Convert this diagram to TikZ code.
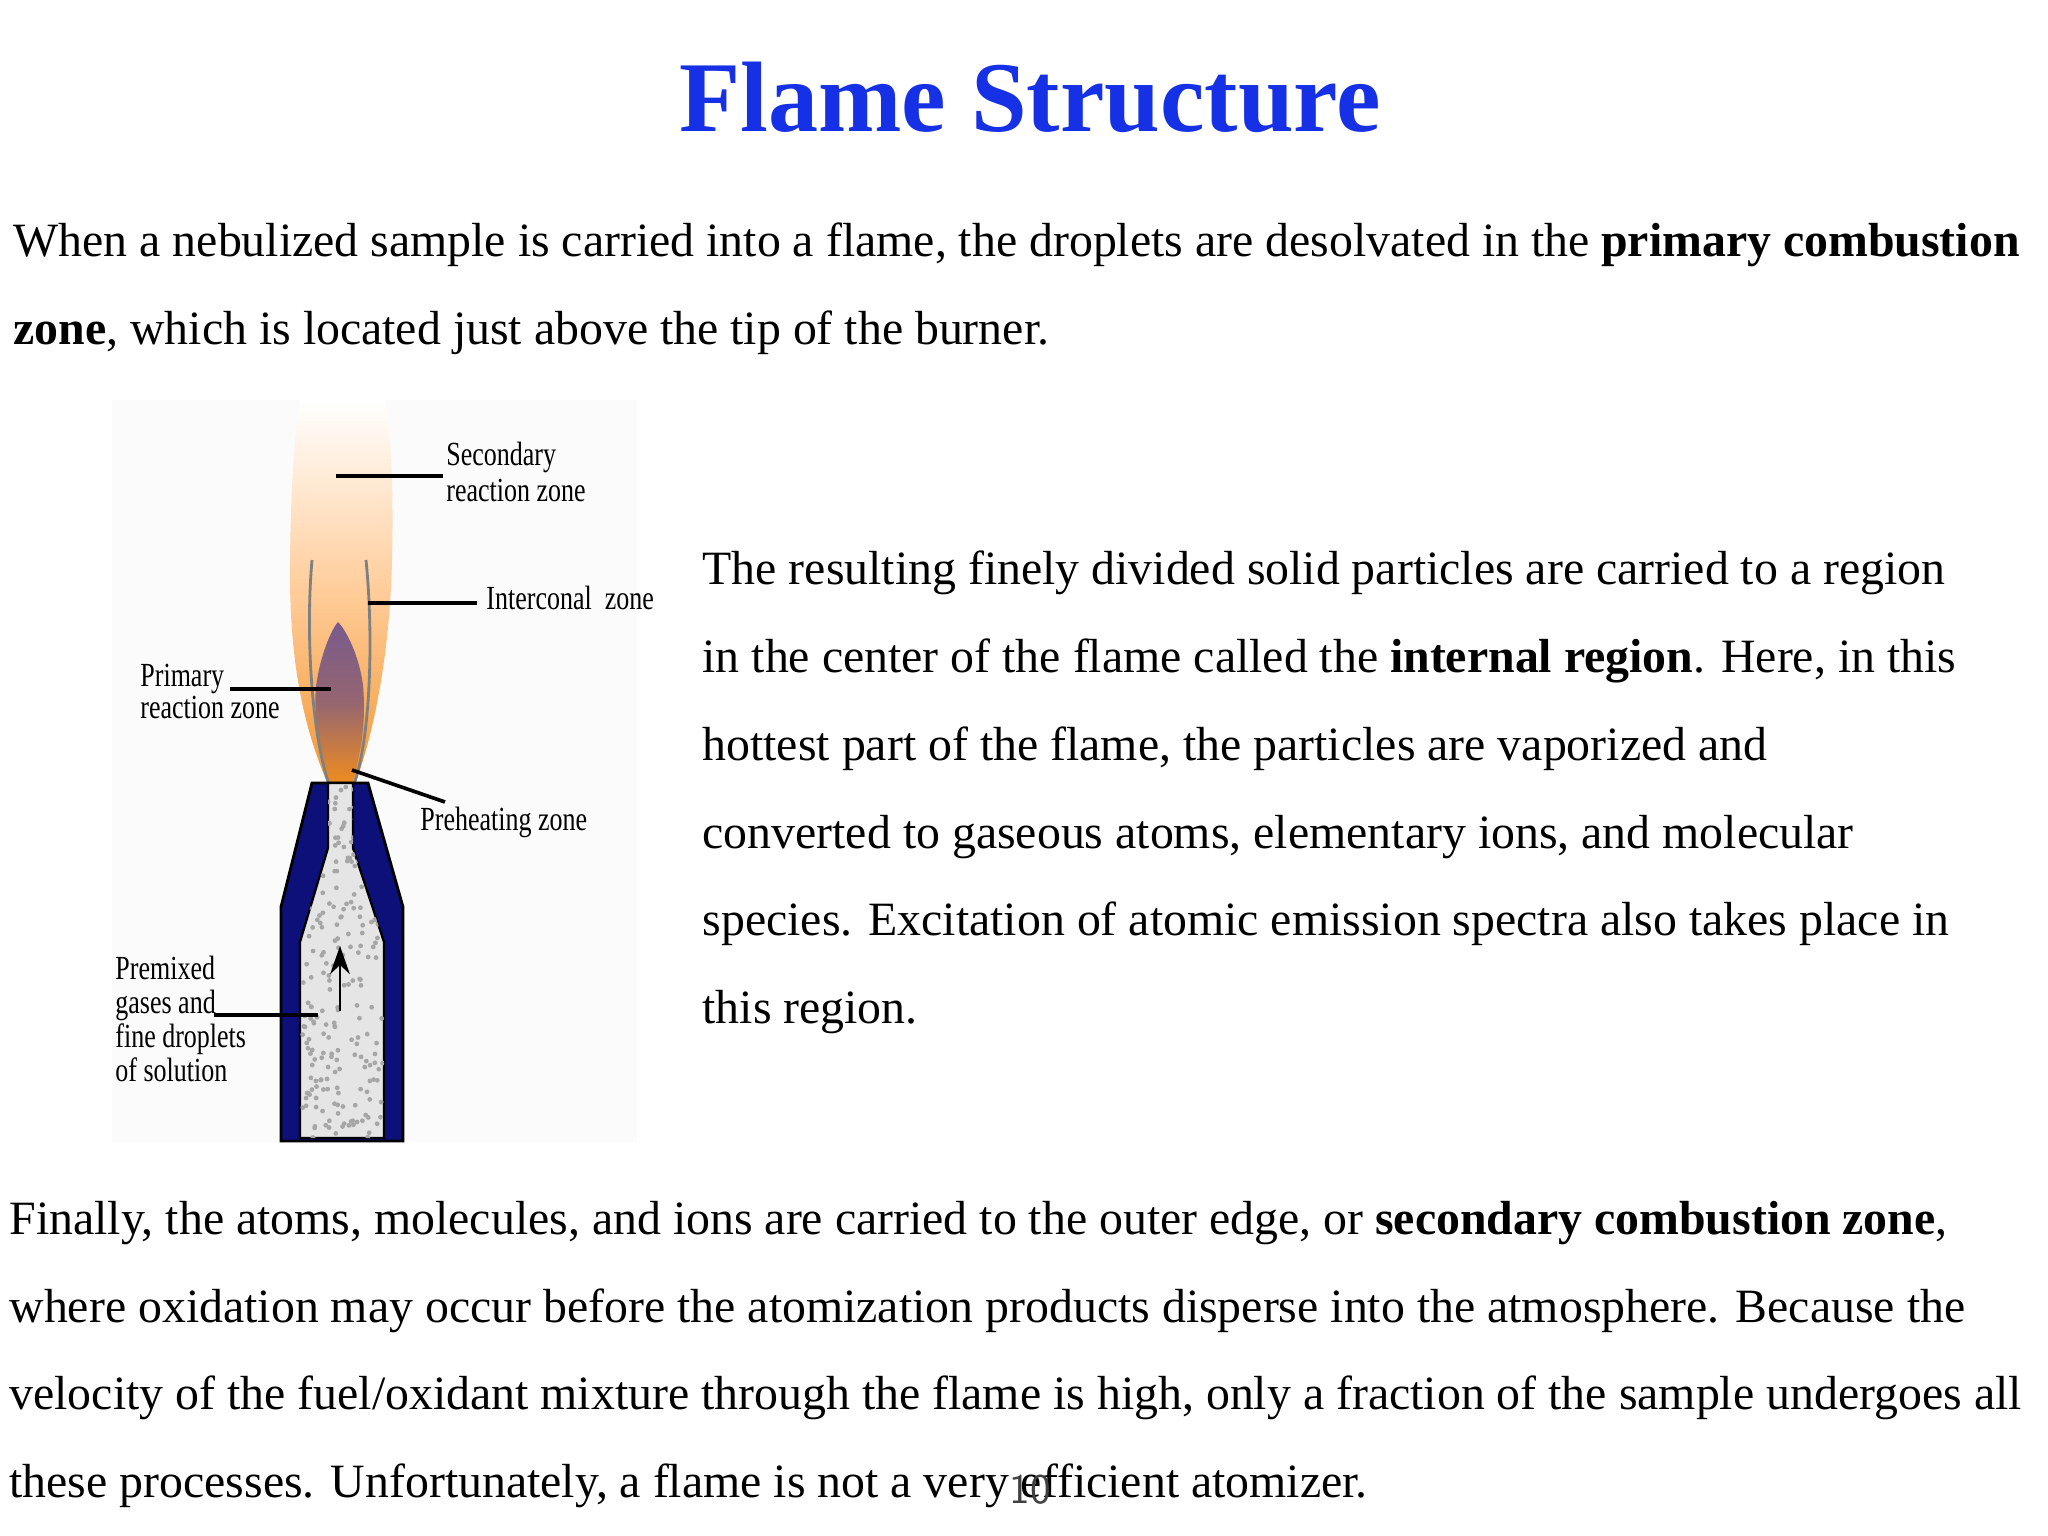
\documentclass[tikz,border=0pt]{standalone}
\usepackage{fontspec}
\setmainfont{Liberation Serif}
\usetikzlibrary{arrows.meta}
\definecolor{ttl}{RGB}{22,48,230}
\definecolor{navy}{RGB}{12,16,120}
\definecolor{flor}{RGB}{240,140,30}
\definecolor{purp}{RGB}{120,90,140}
\begin{document}
\begin{tikzpicture}[x=0.0125cm,y=-0.0125cm,
  body/.style={anchor=base west,inner sep=0pt,font=\fontsize{17}{18}\selectfont},
  lbl/.style={anchor=base west,inner sep=0pt,font=\fontsize{12}{13}\selectfont,xscale=0.77,transform shape},
  lead/.style={line width=1.3pt}]
\useasboundingbox (0,0) rectangle (2048,1536);
\fill[white] (0,0) rectangle (2048,1536);
\fill[black!1.5] (112,400) rectangle (637,1142);
% text
\node[anchor=base,inner sep=0pt,text=ttl,font=\bfseries\fontsize{35.6}{40}\selectfont] (title) at (1030,131) {Flame Structure};
\node[body] (p1a) at (13,256) {When a nebulized sample is carried into a flame, the droplets are desolvated in the \textbf{primary combustion}};
\node[body] (p1b) at (13,344) {\textbf{zone}, which is located just above the tip of the burner.};
\node[body] (r1) at (702,584) {The resulting finely divided solid particles are carried to a region};
\node[body] (r2) at (702,672) {in the center of the flame called the \textbf{internal region}. Here, in this};
\node[body] (r3) at (702,760) {hottest part of the flame, the particles are vaporized and};
\node[body] (r4) at (702,848) {converted to gaseous atoms, elementary ions, and molecular};
\node[body] (r5) at (702,935) {species. Excitation of atomic emission spectra also takes place in};
\node[body] (r6) at (702,1023) {this region.};
\node[body] (b1) at (9,1234) {Finally, the atoms, molecules, and ions are carried to the outer edge, or \textbf{secondary combustion zone},};
\node[body] (b2) at (9,1322) {where oxidation may occur before the atomization products disperse into the atmosphere. Because the};
\node[body] (b3) at (9,1409) {velocity of the fuel/oxidant mixture through the flame is high, only a fraction of the sample undergoes all};
\node[body] (b4) at (9,1497) {these processes. Unfortunately, a flame is not a very efficient atomizer.};
\node[anchor=base,inner sep=0pt,font=\sffamily\fontsize{15}{18}\selectfont,text=black!75] (pg) at (1030,1503) {10};
% flame
\shade[top color=white, bottom color=flor!90, middle color=orange!40]
  (328,784) .. controls (300,720) and (289,650) .. (290,560)
  .. controls (291,480) and (295,430) .. (300,400) -- (385,400)
  .. controls (390,430) and (394,480) .. (392,560)
  .. controls (390,650) and (375,730) .. (355,784) -- cycle;
\shade[top color=purp, bottom color=flor, middle color=purp!75!flor]
  (330,784) .. controls (316,745) and (313,700) .. (317,680)
  .. controls (321,655) and (331,630) .. (338,622)
  .. controls (346,630) and (359,655) .. (363,685)
  .. controls (366,720) and (362,750) .. (352,784) -- cycle;
\draw[black!50,line width=1pt] (329,784) .. controls (313,740) and (305,640) .. (312,560);
\draw[black!50,line width=1pt] (354,784) .. controls (370,740) and (374,640) .. (366,560);
% burner
\fill[navy,draw=black,line width=1pt] (312,783) -- (368,783) -- (403,907) -- (403,1141) -- (281,1141) -- (281,907) -- cycle;
\fill[black!10,draw=black,line width=0.8pt] (328,783) -- (353,783) -- (353,848) -- (384,942) -- (384,1138) -- (300,1138) -- (300,942) -- (328,848) -- cycle;
\begin{scope}
\clip (328,784) -- (353,784) -- (353,848) -- (384,942) -- (384,1138) -- (300,1138) -- (300,942) -- (328,848) -- cycle;
\pgfmathsetseed{7}
\foreach \i in {1,...,240}{
  \pgfmathsetmacro\xx{300+84*rnd}\pgfmathsetmacro\yy{784+354*rnd}
  \fill[black!35] (\xx,\yy) circle (2.4);}
\end{scope}
\coordinate (arA) at (340,1011);
\coordinate (arB) at (340,946);
\draw[-{Stealth[length=10pt,width=7pt]},line width=1pt] (arA) -- (arB);
% labels
\node[lbl] (sec1) at (446,465) {Secondary};
\node[lbl] (sec2) at (446,501) {reaction zone};
\coordinate (s0) at (336,476); \coordinate (s1) at (443,476);
\draw[lead] (s0) -- (s1);
\node[lbl] (int) at (486,609) {Interconal\ \ zone};
\coordinate (i0) at (368,603); \coordinate (i1) at (477,603);
\draw[lead] (i0) -- (i1);
\node[lbl] (pri1) at (140,686) {Primary};
\node[lbl] (pri2) at (140,718) {reaction zone};
\coordinate (q0) at (230,689); \coordinate (q1) at (331,689);
\draw[lead] (q0) -- (q1);
\node[lbl] (pre) at (420,830) {Preheating zone};
\coordinate (h0) at (352,770); \coordinate (h1) at (445,802);
\draw[lead] (h0) -- (h1);
\node[lbl] (pm1) at (115,979) {Premixed};
\node[lbl] (pm2) at (115,1013) {gases and};
\node[lbl] (pm3) at (115,1047) {fine droplets};
\node[lbl] (pm4) at (115,1081) {of solution};
\coordinate (m0) at (214,1015); \coordinate (m1) at (318,1015);
\draw[lead] (m0) -- (m1);
\end{tikzpicture}
\end{document}
